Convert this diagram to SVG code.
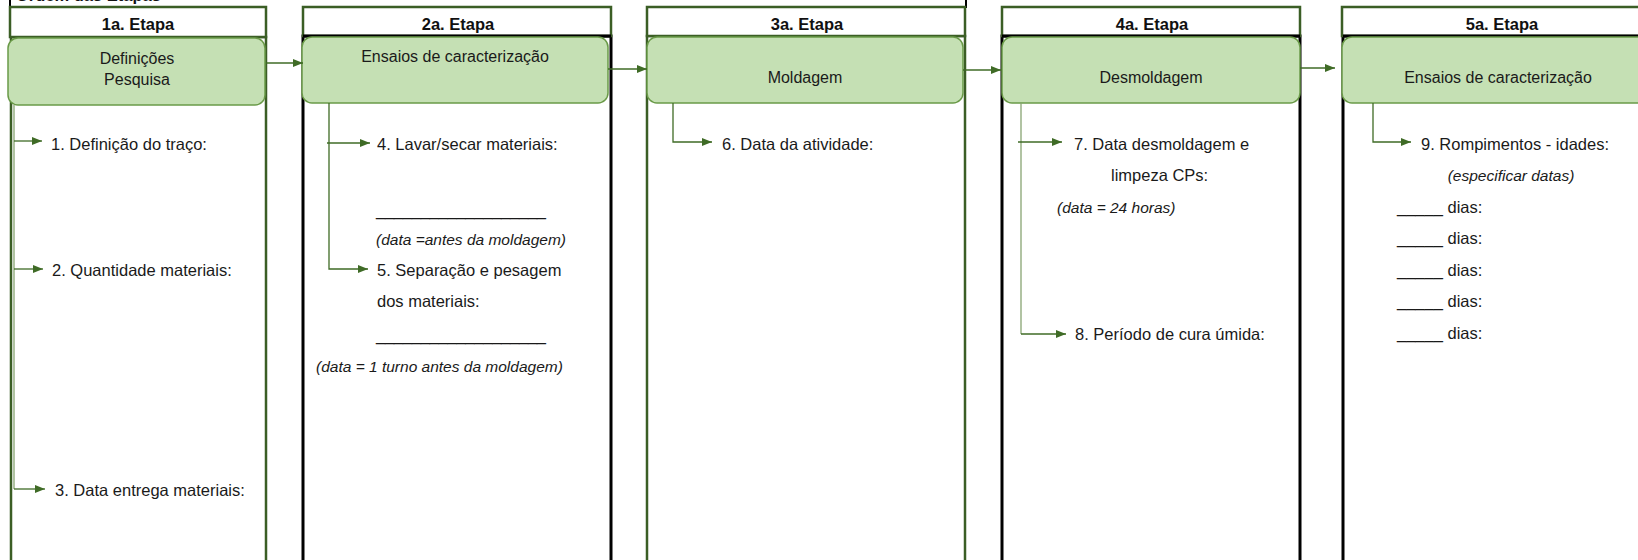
<svg xmlns="http://www.w3.org/2000/svg" width="1638" height="560" viewBox="0 0 1638 560">
<style>
.colG{fill:#fff;stroke:#3b5e25;stroke-width:2.5}
.colK{fill:#fff;stroke:#000;stroke-width:3}
.hdr{fill:#fff;stroke:#3b5e25;stroke-width:2.5}
.box{fill:#c5e0b4;stroke:#6a9a48;stroke-width:1.5}
.ht{font-family:"Liberation Sans",Arial,sans-serif;font-weight:bold;font-size:16.5px;fill:#111;text-anchor:middle}
.bt{font-family:"Liberation Sans",Arial,sans-serif;font-size:16px;fill:#1a1a1a;text-anchor:middle}
.t{font-family:"Liberation Sans",Arial,sans-serif;font-size:16.5px;fill:#1a1a1a}
.i{font-family:"Liberation Sans",Arial,sans-serif;font-size:15.5px;font-style:italic;fill:#1a1a1a}
.c{fill:none;stroke:#3f6b26;stroke-width:1.3}
.cl{fill:none;stroke:#87a472;stroke-width:1.3}
</style>
<defs>
<marker id="ah" markerUnits="userSpaceOnUse" markerWidth="11" markerHeight="9" refX="10" refY="4" orient="auto">
<path d="M0,0 L10,4 L0,8 Z" fill="#3f6b26"/>
</marker>
</defs>
<rect width="1638" height="560" fill="#fff"/>
<g id="title">
<line x1="10" y1="0" x2="10" y2="8" stroke="#000" stroke-width="2"/>
<line x1="966" y1="0" x2="966" y2="8" stroke="#000" stroke-width="2"/>
<text x="16" y="1" class="ht" style="text-anchor:start">Ordem das Etapas</text>
</g>
<g id="etapa1">
<rect class="colG" x="11" y="37" width="255" height="540"/>
<rect class="hdr" x="10" y="7" width="256" height="30"/>
<text class="ht" x="138" y="30">1a. Etapa</text>
<rect class="box" x="8" y="38" width="257" height="67" rx="10"/>
<text class="bt" x="137" y="64">Definições</text>
<text class="bt" x="137" y="85">Pesquisa</text>
<text class="t" x="51" y="150">1. Definição do traço:</text>
<text class="t" x="52" y="276">2. Quantidade materiais:</text>
<text class="t" x="55" y="496">3. Data entrega materiais:</text>
</g>
<g id="etapa2">
<rect class="colK" x="303" y="36" width="308" height="540"/>
<rect class="hdr" x="303" y="7" width="308" height="29"/>
<line x1="303" y1="36" x2="611" y2="36" stroke="#000" stroke-width="3"/>
<text class="ht" x="458" y="30">2a. Etapa</text>
<rect class="box" x="302" y="37" width="306" height="66" rx="10"/>
<text class="bt" x="455" y="62">Ensaios de caracterização</text>
<text class="t" x="377" y="150">4. Lavar/secar materiais:</text>
<text class="t" x="376" y="216" textLength="170">___________________</text>
<text class="i" x="376" y="245">(data =antes da moldagem)</text>
<text class="t" x="377" y="276">5. Separação e pesagem</text>
<text class="t" x="377" y="307">dos materiais:</text>
<text class="t" x="376" y="341" textLength="170">___________________</text>
<text class="i" x="316" y="372">(data = 1 turno antes da moldagem)</text>
</g>
<g id="etapa3">
<rect class="colG" x="647" y="36" width="318" height="540"/>
<rect class="hdr" x="647" y="7" width="318" height="29"/>
<text class="ht" x="807" y="30">3a. Etapa</text>
<rect class="box" x="647" y="37" width="316" height="66" rx="10"/>
<text class="bt" x="805" y="83">Moldagem</text>
<text class="t" x="722" y="150">6. Data da atividade:</text>
</g>
<g id="etapa4">
<rect class="colK" x="1002" y="36" width="298" height="540"/>
<rect class="hdr" x="1002" y="7" width="298" height="29"/>
<line x1="1002" y1="36" x2="1300" y2="36" stroke="#000" stroke-width="3"/>
<text class="ht" x="1152" y="30">4a. Etapa</text>
<rect class="box" x="1002" y="37" width="298" height="66" rx="10"/>
<text class="bt" x="1151" y="83">Desmoldagem</text>
<text class="t" x="1074" y="150">7. Data desmoldagem e</text>
<text class="t" x="1111" y="181">limpeza CPs:</text>
<text class="i" x="1057" y="213">(data = 24 horas)</text>
<text class="t" x="1075" y="340">8. Período de cura úmida:</text>
</g>
<g id="etapa5">
<rect class="colK" x="1343" y="36" width="320" height="540"/>
<rect class="hdr" x="1342" y="7" width="320" height="29"/>
<line x1="1343" y1="36" x2="1640" y2="36" stroke="#000" stroke-width="3"/>
<text class="ht" x="1502" y="30">5a. Etapa</text>
<rect class="box" x="1342" y="37" width="320" height="66" rx="10"/>
<text class="bt" x="1498" y="83">Ensaios de caracterização</text>
<text class="t" x="1421" y="150">9. Rompimentos - idades:</text>
<text class="i" x="1511" y="181" text-anchor="middle">(especificar datas)</text>
<text class="t" x="1397" y="213">_____ dias:</text>
<text class="t" x="1397" y="244">_____ dias:</text>
<text class="t" x="1397" y="276">_____ dias:</text>
<text class="t" x="1397" y="307">_____ dias:</text>
<text class="t" x="1397" y="339">_____ dias:</text>
</g>
<g id="connectors">
<line class="c" x1="266" y1="63" x2="303" y2="63" marker-end="url(#ah)"/>
<line class="c" x1="608" y1="69" x2="647" y2="69" marker-end="url(#ah)"/>
<line class="c" x1="963" y1="70" x2="1001" y2="70" marker-end="url(#ah)"/>
<line class="c" x1="1300" y1="68" x2="1335" y2="68" marker-end="url(#ah)"/>
<polyline class="cl" points="14,105 14,489"/>
<line class="c" x1="14" y1="141" x2="42" y2="141" marker-end="url(#ah)"/>
<line class="c" x1="14" y1="269" x2="43" y2="269" marker-end="url(#ah)"/>
<line class="c" x1="14" y1="489" x2="45" y2="489" marker-end="url(#ah)"/>
<polyline class="c" points="329,103 329,269 368,269" marker-end="url(#ah)"/>
<line class="c" x1="327" y1="143" x2="370" y2="143" marker-end="url(#ah)"/>
<polyline class="c" points="673,103 673,142 712,142" marker-end="url(#ah)"/>
<polyline class="cl" points="1021,103 1021,334"/>
<line class="c" x1="1018" y1="142" x2="1062" y2="142" marker-end="url(#ah)"/>
<line class="c" x1="1021" y1="334" x2="1066" y2="334" marker-end="url(#ah)"/>
<polyline class="c" points="1373,103 1373,142 1411,142" marker-end="url(#ah)"/>
</g>
</svg>
